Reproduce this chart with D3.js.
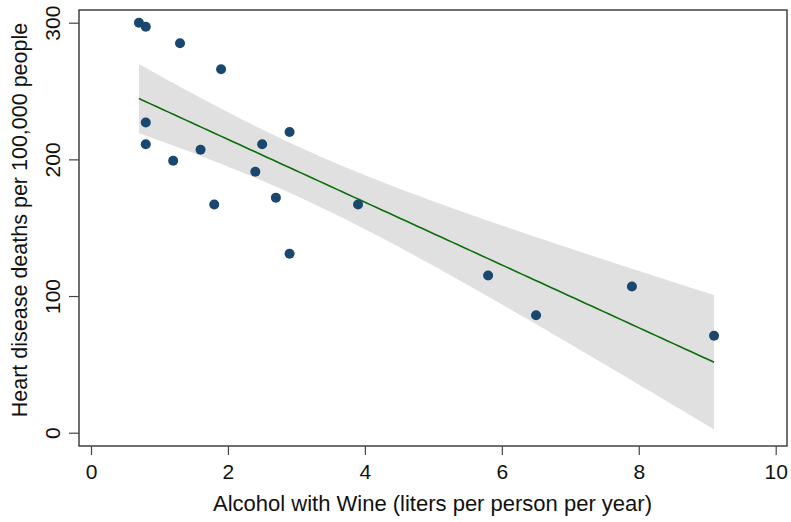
<!DOCTYPE html>
<html>
<head>
<meta charset="utf-8">
<script src="https://cdn.jsdelivr.net/npm/d3@7"></script>
<style>
  body { margin: 0; background: #fff; }
  svg { display: block; font-family: 'Liberation Sans', Arial, sans-serif; }
</style>
</head>
<body>
<div id="chart"></div>
<script>
// wine consumption vs heart disease, 19 countries
const wine = [2.5, 3.9, 2.9, 2.4, 2.9, 0.8, 9.1, 0.8, 0.7, 7.9, 1.8, 1.9, 0.8, 6.5, 1.6, 5.8, 1.3, 1.2, 2.7];
const deaths = [211, 167, 131, 191, 220, 297, 71, 211, 300, 107, 167, 266, 227, 86, 207, 115, 285, 199, 172];
const xTicks = [0, 2, 4, 6, 8, 10];
const yTicks = [0, 100, 200, 300];

const totalWidth = 791;
const totalHeight = 522;
const frame = { left: 79, top: 10, right: 787, bottom: 446 };

const xScale = d3.scaleLinear().domain([0, 10]).range([91, 775.7]);
const yScale = d3.scaleLinear().domain([0, 300]).range([432.7, 22.7]);

// least squares fit + 95% CI of the mean
const n = wine.length;
const xbar = d3.mean(wine);
const ybar = d3.mean(deaths);
const sxx = d3.sum(wine, (x) => (x - xbar) ** 2);
const sxy = d3.sum(wine, (x, i) => (x - xbar) * (deaths[i] - ybar));
const slope = sxy / sxx;
const intercept = ybar - slope * xbar;
const sse = d3.sum(wine, (x, i) => (deaths[i] - intercept - slope * x) ** 2);
const s = Math.sqrt(sse / (n - 2));
const tcrit = 2.1098; // t(0.975, 17)

const [xmin, xmax] = d3.extent(wine);
const fit = d3.range(100).map((k) => {
  const x = xmin + (k / 99) * (xmax - xmin);
  const yhat = intercept + slope * x;
  const se = s * Math.sqrt(1 / n + (x - xbar) ** 2 / sxx);
  return { x, yhat, lo: yhat - tcrit * se, hi: yhat + tcrit * se };
});

const svg = d3
  .select('#chart')
  .append('svg')
  .attr('width', totalWidth)
  .attr('height', totalHeight);

// CI band
svg
  .append('path')
  .datum(fit)
  .attr('fill', '#e0e0e0')
  .attr(
    'd',
    d3
      .area()
      .x((d) => xScale(d.x))
      .y0((d) => yScale(d.lo))
      .y1((d) => yScale(d.hi))
  );

// fitted line
svg
  .append('path')
  .datum(fit)
  .attr('fill', 'none')
  .attr('stroke', '#0a6e0a')
  .attr('stroke-width', 1.6)
  .attr(
    'd',
    d3
      .line()
      .x((d) => xScale(d.x))
      .y((d) => yScale(d.yhat))
  );

// points
svg
  .append('g')
  .selectAll('circle')
  .data(wine)
  .join('circle')
  .attr('cx', (d) => xScale(d))
  .attr('cy', (d, i) => yScale(deaths[i]))
  .attr('r', 5)
  .attr('fill', '#1a476f');

// plot frame
svg
  .append('rect')
  .attr('x', frame.left)
  .attr('y', frame.top)
  .attr('width', frame.right - frame.left)
  .attr('height', frame.bottom - frame.top)
  .attr('fill', 'none')
  .attr('stroke', '#111')
  .attr('stroke-width', 1.2);

// x axis
const xAxis = svg
  .append('g')
  .attr('transform', `translate(0, ${frame.bottom})`)
  .call(d3.axisBottom(xScale).tickValues(xTicks).tickSize(9).tickPadding(9).tickFormat(d3.format('d')));
xAxis.select('.domain').remove();
xAxis.selectAll('.tick line').attr('stroke', '#444').attr('stroke-width', 1.2);
xAxis.selectAll('.tick text').attr('font-size', 21).attr('fill', '#111').style('font-family', "'Liberation Sans', Arial, sans-serif");

// y axis, labels rotated like Stata
const yAxis = svg
  .append('g')
  .attr('transform', `translate(${frame.left}, 0)`)
  .call(d3.axisLeft(yScale).tickValues(yTicks).tickSize(10).tickFormat(d3.format('d')));
yAxis.select('.domain').remove();
yAxis.selectAll('.tick line').attr('stroke', '#444').attr('stroke-width', 1.2);
yAxis
  .selectAll('.tick text')
  .attr('x', null)
  .attr('dy', null)
  .attr('font-size', 21)
  .attr('fill', '#111')
  .attr('text-anchor', 'middle')
  .attr('transform', 'translate(-19, 0) rotate(-90)')
  .style('font-family', "'Liberation Sans', Arial, sans-serif");

// axis titles
svg
  .append('text')
  .attr('x', 432.5)
  .attr('y', 511)
  .attr('text-anchor', 'middle')
  .attr('font-size', 22)
  .attr('fill', '#111')
  .text('Alcohol with Wine (liters per person per year)');

svg
  .append('text')
  .attr('transform', 'translate(27, 220) rotate(-90)')
  .attr('text-anchor', 'middle')
  .attr('font-size', 21.5)
  .attr('fill', '#111')
  .text('Heart disease deaths per 100,000 people');
</script>
</body>
</html>
